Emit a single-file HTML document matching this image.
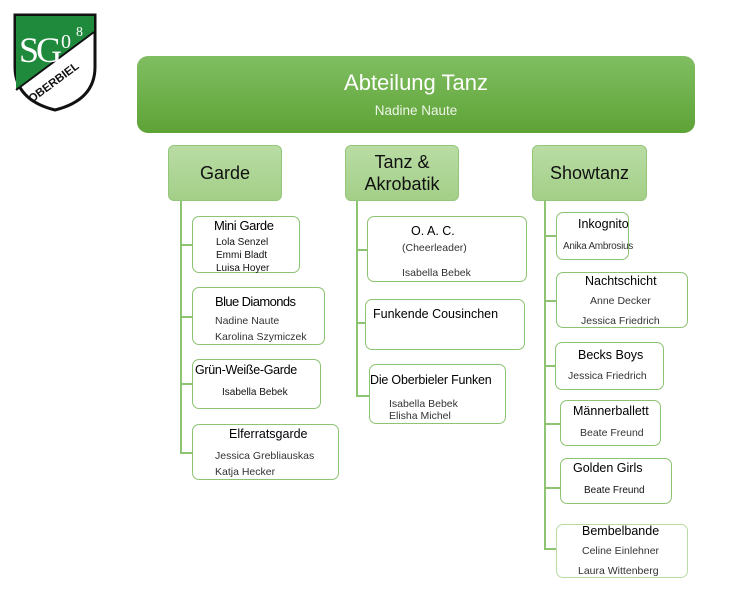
<!DOCTYPE html>
<html><head><meta charset="utf-8"><style>
body{margin:0;width:753px;height:615px;background:#fff;position:relative;overflow:hidden;font-family:"Liberation Sans",sans-serif;}
div{position:absolute;box-sizing:border-box;}
.top{left:137px;top:56px;width:558px;height:77px;border-radius:11px;background:linear-gradient(#80be62,#5ea336);}
.hd{background:linear-gradient(#b9dca4,#a3cf88);border:1px solid #94c77a;border-radius:6px;text-align:center;color:#111;font-size:18px;display:flex;align-items:center;justify-content:center;line-height:22px;}
.bx{border:1.5px solid #8cc472;border-radius:7px;background:#fff;}
.vl{width:1.5px;background:#8cc472;}
.hl{height:1.5px;background:#8cc472;}
.t{white-space:nowrap;font-size:10.5px;color:#333;}
.n{white-space:nowrap;font-size:12.5px;color:#000;}
</style></head><body>
<svg style="position:absolute;left:12px;top:12px" width="86" height="100" viewBox="0 0 86 100">
<path d="M3 3 H83 V55 Q83 88 43 98 Q3 88 3 55 Z" fill="#fff" stroke="#111" stroke-width="3"/>
<path d="M4 4 H82 V20 L4 78 Z" fill="#1f8a3c"/>
<line x1="4" y1="78" x2="82" y2="20" stroke="#111" stroke-width="2"/>
<text x="7" y="50" font-family="Liberation Serif" font-size="36" fill="#fff" letter-spacing="-3">SG</text>
<text x="49" y="36" font-family="Liberation Serif" font-size="20" fill="#fff">0</text>
<text x="64" y="24" font-family="Liberation Serif" font-size="14" fill="#fff">8</text>
<text x="20" y="91" font-family="Liberation Sans" font-weight="bold" font-size="11.5" fill="#111" transform="rotate(-36.6 20 91)">OBERBIEL</text>
</svg>
<div class="top"></div>
<div style="left:137px;top:70px;width:558px;text-align:center;color:#fff;font-size:22px">Abteilung Tanz</div>
<div style="left:137px;top:103px;width:558px;text-align:center;color:#eef6e8;font-size:13.5px">Nadine Naute</div>

<div class="hd" style="left:168px;top:145px;width:114px;height:56px">Garde</div>
<div class="hd" style="left:345px;top:145px;width:114px;height:56px">Tanz &amp;<br>Akrobatik</div>
<div class="hd" style="left:532px;top:145px;width:115px;height:56px">Showtanz</div>

<div class="vl" style="left:180px;top:201px;height:252px"></div>
<div class="vl" style="left:356px;top:201px;height:195px"></div>
<div class="vl" style="left:544px;top:201px;height:348px"></div>

<div class="hl" style="left:180px;top:244px;width:12px"></div>
<div class="hl" style="left:180px;top:316px;width:12px"></div>
<div class="hl" style="left:180px;top:383px;width:12px"></div>
<div class="hl" style="left:180px;top:452px;width:12px"></div>
<div class="hl" style="left:356px;top:249px;width:11px"></div>
<div class="hl" style="left:356px;top:322px;width:9px"></div>
<div class="hl" style="left:356px;top:395px;width:13px"></div>
<div class="hl" style="left:544px;top:235px;width:12px"></div>
<div class="hl" style="left:544px;top:300px;width:12px"></div>
<div class="hl" style="left:544px;top:365px;width:11px"></div>
<div class="hl" style="left:544px;top:423px;width:16px"></div>
<div class="hl" style="left:544px;top:487px;width:16px"></div>
<div class="hl" style="left:544px;top:548px;width:12px"></div>

<!-- Garde -->
<div class="bx" style="left:192px;top:216px;width:108px;height:57px"></div>
<div class="n" style="left:214px;top:218px;font-size:13px;letter-spacing:-0.4px">Mini Garde</div>
<div class="t" style="left:216px;top:236px;color:#111;font-size:10px;line-height:13px">Lola Senzel<br>Emmi Bladt<br>Luisa Hoyer</div>

<div class="bx" style="left:192px;top:287px;width:133px;height:58px"></div>
<div class="n" style="left:215px;top:294px;font-size:13px;letter-spacing:-0.6px">Blue Diamonds</div>
<div class="t" style="left:215px;top:313px;line-height:16px">Nadine Naute<br>Karolina Szymiczek</div>

<div class="bx" style="left:192px;top:359px;width:129px;height:50px"></div>
<div class="n" style="left:195px;top:363px;letter-spacing:-0.3px">Grün-Weiße-Garde</div>
<div class="t" style="left:222px;top:387px;color:#111;font-size:10px">Isabella Bebek</div>

<div class="bx" style="left:192px;top:424px;width:147px;height:56px"></div>
<div class="n" style="left:229px;top:427px">Elferratsgarde</div>
<div class="t" style="left:215px;top:448px;line-height:16px">Jessica Grebliauskas<br>Katja Hecker</div>

<!-- Tanz -->
<div class="bx" style="left:367px;top:216px;width:160px;height:66px"></div>
<div class="n" style="left:411px;top:224px">O. A. C.</div>
<div class="t" style="left:402px;top:242px">(Cheerleader)</div>
<div class="t" style="left:402px;top:267px">Isabella Bebek</div>

<div class="bx" style="left:365px;top:299px;width:160px;height:51px"></div>
<div class="n" style="left:373px;top:307px">Funkende Cousinchen</div>

<div class="bx" style="left:369px;top:364px;width:137px;height:60px"></div>
<div class="n" style="left:370px;top:373px;letter-spacing:-0.2px">Die Oberbieler Funken</div>
<div class="t" style="left:389px;top:398px;line-height:12px">Isabella Bebek<br>Elisha Michel</div>

<!-- Showtanz -->
<div class="bx" style="left:556px;top:212px;width:73px;height:48px"></div>
<div class="n" style="left:578px;top:217px">Inkognito</div>
<div class="t" style="left:563px;top:241px;font-size:10px;letter-spacing:-0.3px">Anika Ambrosius</div>

<div class="bx" style="left:556px;top:272px;width:132px;height:56px"></div>
<div class="n" style="left:585px;top:274px">Nachtschicht</div>
<div class="t" style="left:590px;top:295px">Anne Decker</div>
<div class="t" style="left:581px;top:315px">Jessica Friedrich</div>

<div class="bx" style="left:555px;top:342px;width:109px;height:48px"></div>
<div class="n" style="left:578px;top:348px">Becks Boys</div>
<div class="t" style="left:568px;top:370px">Jessica Friedrich</div>

<div class="bx" style="left:560px;top:400px;width:101px;height:46px"></div>
<div class="n" style="left:573px;top:404px">Männerballett</div>
<div class="t" style="left:580px;top:427px">Beate Freund</div>

<div class="bx" style="left:560px;top:458px;width:112px;height:46px"></div>
<div class="n" style="left:573px;top:461px">Golden Girls</div>
<div class="t" style="left:584px;top:485px;color:#111;font-size:10px">Beate Freund</div>

<div class="bx" style="left:556px;top:524px;width:132px;height:54px;border-color:#b9dca4"></div>
<div class="n" style="left:582px;top:524px">Bembelbande</div>
<div class="t" style="left:582px;top:545px">Celine Einlehner</div>
<div class="t" style="left:578px;top:565px">Laura Wittenberg</div>
</body></html>
